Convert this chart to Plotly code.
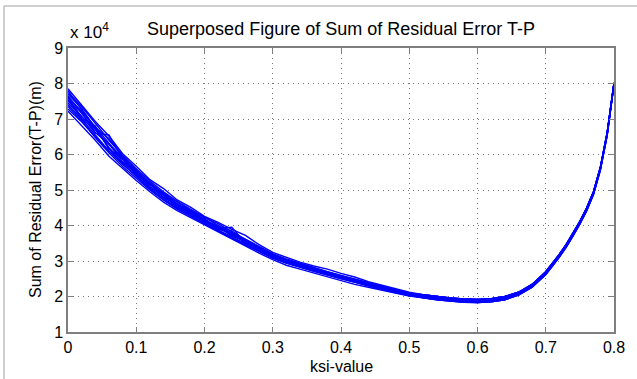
import plotly.graph_objects as go

# ---- data (values in units of 10^4) ----
x_head = [0.00, 0.02, 0.04, 0.06, 0.08, 0.10, 0.12, 0.14, 0.16, 0.18, 0.20, 0.22, 0.24,
          0.26, 0.28, 0.30, 0.32, 0.34, 0.36, 0.38, 0.40, 0.42, 0.44, 0.46, 0.48, 0.50]
x_tail = [0.52, 0.54, 0.56, 0.58, 0.60, 0.62, 0.64, 0.66, 0.68, 0.70,
          0.71, 0.72, 0.73, 0.74, 0.75, 0.76, 0.77, 0.78, 0.79, 0.80]

head_01 = [7.85, 7.40, 6.93, 6.52, 6.02, 5.67, 5.29, 5.04, 4.72, 4.51, 4.26, 4.09, 3.89, 3.72, 3.46, 3.24, 3.10, 2.97, 2.86, 2.77, 2.65, 2.55, 2.42, 2.32, 2.21, 2.12]
head_02 = [7.22, 6.82, 6.40, 5.95, 5.60, 5.27, 4.95, 4.66, 4.42, 4.22, 4.02, 3.80, 3.60, 3.40, 3.22, 3.04, 2.88, 2.77, 2.66, 2.54, 2.44, 2.34, 2.26, 2.17, 2.08, 2.01]
head_03 = [7.60, 7.05, 6.80, 6.15, 5.90, 5.40, 5.20, 4.78, 4.62, 4.30, 4.18, 3.90, 3.80, 3.50, 3.38, 3.10, 3.02, 2.84, 2.79, 2.62, 2.57, 2.42, 2.36, 2.22, 2.15, 2.05]
head_04 = [7.70, 7.30, 6.75, 6.45, 5.95, 5.55, 5.18, 4.92, 4.60, 4.42, 4.16, 3.98, 3.85, 3.58, 3.38, 3.18, 3.03, 2.90, 2.80, 2.68, 2.58, 2.47, 2.37, 2.27, 2.16, 2.08]
head_05 = [7.40, 7.00, 6.55, 6.10, 5.72, 5.40, 5.05, 4.76, 4.52, 4.30, 4.08, 3.88, 3.68, 3.48, 3.30, 3.10, 2.95, 2.84, 2.72, 2.62, 2.51, 2.41, 2.31, 2.21, 2.12, 2.04]
head_06 = [7.80, 7.25, 6.72, 6.20, 5.75, 5.38, 5.02, 4.72, 4.48, 4.28, 4.05, 3.86, 3.66, 3.45, 3.28, 3.08, 2.94, 2.82, 2.71, 2.61, 2.50, 2.40, 2.30, 2.20, 2.11, 2.03]
head_07 = [7.28, 6.92, 6.50, 6.10, 5.78, 5.50, 5.20, 4.90, 4.66, 4.42, 4.22, 4.05, 3.82, 3.62, 3.40, 3.20, 3.06, 2.93, 2.82, 2.70, 2.60, 2.49, 2.38, 2.28, 2.18, 2.09]
head_08 = [7.50, 7.20, 6.62, 6.30, 5.80, 5.52, 5.08, 4.88, 4.55, 4.40, 4.10, 3.92, 3.95, 3.50, 3.36, 3.12, 3.00, 2.86, 2.78, 2.64, 2.56, 2.43, 2.35, 2.24, 2.13, 2.06]
head_09 = [7.65, 7.15, 6.70, 6.28, 5.85, 5.45, 5.15, 4.85, 4.56, 4.34, 4.15, 3.95, 3.72, 3.58, 3.33, 3.15, 2.98, 2.88, 2.75, 2.66, 2.54, 2.45, 2.33, 2.25, 2.14, 2.07]
head_10 = [7.45, 7.08, 6.60, 6.55, 5.88, 5.50, 5.10, 4.80, 4.58, 4.38, 4.12, 3.96, 3.74, 3.56, 3.35, 3.16, 3.00, 2.88, 2.77, 2.66, 2.55, 2.44, 2.34, 2.23, 2.14, 2.06]
head_11 = [7.75, 7.35, 6.88, 6.40, 5.98, 5.60, 5.25, 4.95, 4.68, 4.45, 4.22, 4.00, 3.78, 3.60, 3.40, 3.20, 3.04, 2.92, 2.80, 2.70, 2.58, 2.48, 2.38, 2.27, 2.17, 2.09]
head_12 = [7.35, 6.95, 6.48, 6.05, 5.66, 5.32, 5.00, 4.72, 4.46, 4.26, 4.04, 3.84, 3.64, 3.46, 3.28, 3.08, 2.94, 2.82, 2.72, 2.60, 2.50, 2.40, 2.30, 2.21, 2.11, 2.03]
head_13 = [7.55, 7.00, 6.72, 6.18, 5.76, 5.48, 5.06, 4.86, 4.50, 4.38, 4.10, 3.98, 3.70, 3.56, 3.30, 3.16, 2.96, 2.90, 2.74, 2.68, 2.52, 2.46, 2.32, 2.26, 2.12, 2.07]
head_14 = [7.62, 7.22, 6.78, 6.32, 5.90, 5.52, 5.16, 4.86, 4.60, 4.36, 4.18, 3.92, 3.76, 3.52, 3.36, 3.12, 3.00, 2.86, 2.76, 2.64, 2.56, 2.42, 2.34, 2.23, 2.15, 2.05]

tail_a = [2.05, 2.00, 1.96, 1.93, 1.92, 1.94, 2.00, 2.12, 2.34, 2.70, 2.94, 3.19, 3.47, 3.78, 4.12, 4.50, 4.96, 5.64, 6.62, 8.02]
tail_b = [2.00, 1.95, 1.91, 1.88, 1.87, 1.89, 1.95, 2.08, 2.30, 2.66, 2.90, 3.15, 3.43, 3.74, 4.08, 4.46, 4.92, 5.60, 6.58, 8.00]
tail_c = [1.96, 1.91, 1.87, 1.84, 1.83, 1.85, 1.91, 2.04, 2.26, 2.62, 2.86, 3.11, 3.39, 3.70, 4.04, 4.42, 4.88, 5.56, 6.54, 7.98]
tail_d = [2.02, 1.93, 1.92, 1.87, 1.85, 1.90, 1.94, 2.09, 2.29, 2.67, 2.91, 3.14, 3.44, 3.73, 4.09, 4.47, 4.93, 5.61, 6.59, 8.00]

curves = [
    (head_01, tail_a), (head_02, tail_c), (head_03, tail_d), (head_04, tail_a),
    (head_05, tail_c), (head_06, tail_b), (head_07, tail_a), (head_08, tail_d),
    (head_09, tail_b), (head_10, tail_d), (head_11, tail_a), (head_12, tail_c),
    (head_13, tail_b), (head_14, tail_b),
]

x_ticks = [0, 0.1, 0.2, 0.3, 0.4, 0.5, 0.6, 0.7, 0.8]
x_tick_text = ["0", "0.1", "0.2", "0.3", "0.4", "0.5", "0.6", "0.7", "0.8"]
y_ticks = [1, 2, 3, 4, 5, 6, 7, 8, 9]

FONT = "Liberation Sans, Arial, Helvetica, sans-serif"
AX = "#7f7f7f"

fig = go.Figure()
for head, tail in curves:
    fig.add_trace(go.Scatter(
        x=x_head + x_tail, y=head + tail, mode="lines",
        line=dict(color="#0000FF", width=1.4), showlegend=False, hoverinfo="skip",
    ))

axis_common = dict(
    showline=True, linecolor=AX, linewidth=1.5, mirror="ticks",
    ticks="inside", ticklen=5, tickcolor=AX,
    showgrid=True, gridcolor="#777777", griddash="1px,4px", gridwidth=1,
    zeroline=False, tickfont=dict(family=FONT, size=16, color="black"),
)

fig.update_xaxes(range=[0, 0.8], tickvals=x_ticks, ticktext=x_tick_text, **axis_common)
fig.update_yaxes(range=[1, 9], tickvals=y_ticks, **axis_common)

fig.update_layout(
    width=637, height=379,
    margin=dict(l=68, r=23, t=48, b=47),
    paper_bgcolor="white", plot_bgcolor="white",
    font=dict(family=FONT, size=16, color="black"),
    title=dict(text="Superposed Figure of Sum of Residual Error T-P",
               x=0.5, xref="paper", y=1 - 29 / 379, yanchor="middle",
               font=dict(family=FONT, size=18, color="black")),
    annotations=[
        dict(text="x 10<sup>4</sup>", xref="paper", yref="paper",
             x=0, y=1.0 + 4 / 284, xanchor="left", yanchor="bottom",
             showarrow=False, font=dict(family=FONT, size=17, color="black")),
        dict(text="Sum of Residual Error(T-P)(m)", xref="paper", yref="paper",
             x=(35 - 68) / 546, y=0.5, xanchor="center", yanchor="middle",
             textangle=-90, showarrow=False,
             font=dict(family=FONT, size=16, color="black")),
        dict(text="ksi-value", xref="paper", yref="paper",
             x=0.5, y=-(366 - 332) / 284, xanchor="center", yanchor="middle",
             showarrow=False, font=dict(family=FONT, size=16, color="black")),
    ],
    shapes=[
        dict(type="rect", xref="paper", yref="paper",
             x0=(4 - 68) / 546, x1=(645 - 68) / 546,
             y0=(332 - 390) / 284, y1=(332 - 6) / 284,
             line=dict(color="#a0a0a0", width=1), layer="below"),
    ],
)

fig.write_html("out.html")
